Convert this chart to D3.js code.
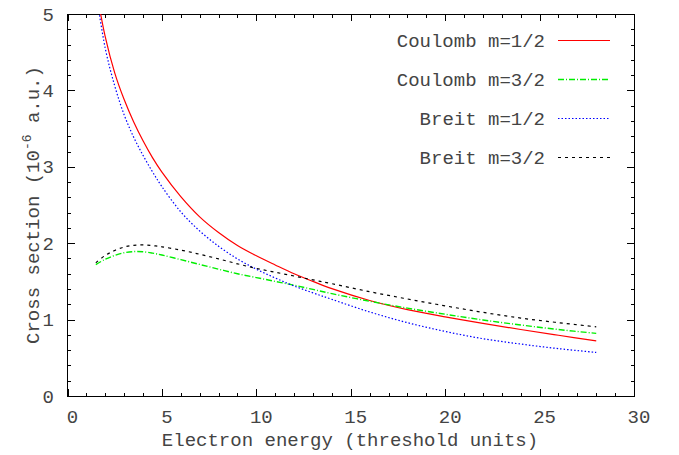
<!DOCTYPE html>
<html>
<head>
<meta charset="utf-8">
<title>Cross section vs electron energy</title>
<script src="https://d3js.org/d3.v7.min.js"></script>
<style>
  body { margin: 0; background: #fff; }
  svg { display: block; font-family: "Liberation Mono", "DejaVu Sans Mono", monospace; }
  .lbl { font-size: 19px; fill: #444; }
</style>
</head>
<body>
<svg id="chart" width="679" height="455"></svg>
<script>
// energy grid (threshold units) and curves
const energy = [1.5, 2, 2.5, 3, 3.5, 4, 4.5, 5, 6, 7, 8, 9, 10, 11, 12, 13, 14, 16, 18, 20, 22, 24, 26, 28];
const coulombHalf = [5.35, 4.70, 4.23, 3.88, 3.59, 3.34, 3.12, 2.93, 2.61, 2.345, 2.14, 1.97, 1.835, 1.715, 1.60, 1.50, 1.405, 1.25, 1.13, 1.035, 0.95, 0.87, 0.795, 0.722];
const coulombThreeHalf = [1.72, 1.79, 1.84, 1.875, 1.89, 1.888, 1.87, 1.845, 1.785, 1.722, 1.66, 1.60, 1.55, 1.50, 1.45, 1.395, 1.34, 1.24, 1.15, 1.07, 0.995, 0.93, 0.87, 0.82];
const breitHalf = [5.3, 4.55, 4.06, 3.68, 3.39, 3.15, 2.935, 2.74, 2.41, 2.16, 1.96, 1.795, 1.66, 1.545, 1.44, 1.35, 1.265, 1.10, 0.96, 0.845, 0.75, 0.68, 0.62, 0.57];
const breitThreeHalf = [1.745, 1.84, 1.905, 1.95, 1.972, 1.977, 1.968, 1.953, 1.91, 1.855, 1.795, 1.73, 1.67, 1.62, 1.57, 1.52, 1.47, 1.365, 1.27, 1.18, 1.095, 1.02, 0.96, 0.905];

const seriesNames = ["Coulomb m=1/2", "Coulomb m=3/2", "Breit m=1/2", "Breit m=3/2"];
const xTicks = [0, 5, 10, 15, 20, 25, 30];
const yTicks = [0, 1, 2, 3, 4, 5];

const series = [
  { name: seriesNames[0], values: coulombHalf, color: "#ff0000", dash: null, w: 1.2 },
  { name: seriesNames[1], values: coulombThreeHalf, color: "#00ee00", dash: "6,2,1,2", w: 1.4 },
  { name: seriesNames[2], values: breitHalf, color: "#0000ff", dash: "1.5,2", w: 1.2 },
  { name: seriesNames[3], values: breitThreeHalf, color: "#000000", dash: "3,4", w: 1.2 }
];

const pLeft = 67.5, pRight = 634, pTop = 14, pBottom = 396;
const svg = d3.select("#chart");

const x = d3.scaleLinear().domain([0, 30]).range([pLeft, pRight]);
const y = d3.scaleLinear().domain([0, 5]).range([pBottom, pTop]);

svg.append("defs").append("clipPath").attr("id", "clip")
  .append("rect").attr("x", pLeft).attr("y", pTop).attr("width", pRight - pLeft).attr("height", pBottom - pTop);

// ticks on all four sides, pointing inward
const axes = svg.append("g").attr("shape-rendering", "crispEdges");
function addAxis(axisFn, scale, pos, major, minor) {
  const g1 = axes.append("g").attr("transform", pos)
    .call(axisFn(scale).tickValues(minor).tickSize(-3.5).tickFormat(""));
  const g2 = axes.append("g").attr("transform", pos)
    .call(axisFn(scale).tickValues(major).tickSize(-7).tickFormat(""));
  [g1, g2].forEach(g => { g.select(".domain").remove(); g.selectAll("line").attr("stroke", "#000"); });
}
const xMinor = d3.range(0, 31, 1), yMinor = d3.range(0, 5.01, 0.2);
addAxis(d3.axisBottom, x, `translate(0,${pBottom})`, xTicks, xMinor);
addAxis(d3.axisTop, x, `translate(0,${pTop})`, xTicks, xMinor);
addAxis(d3.axisLeft, y, `translate(${pLeft},0)`, yTicks, yMinor);
addAxis(d3.axisRight, y, `translate(${pRight},0)`, yTicks, yMinor);

axes.append("rect").attr("x", pLeft).attr("y", pTop)
  .attr("width", pRight - pLeft).attr("height", pBottom - pTop)
  .attr("fill", "none").attr("stroke", "#000");

// tick labels
svg.append("g").selectAll("text").data(xTicks).join("text")
  .attr("class", "lbl").attr("text-anchor", "middle")
  .attr("x", d => x(d) + 5).attr("y", 423).text(d => d);
svg.append("g").selectAll("text").data(yTicks).join("text")
  .attr("class", "lbl").attr("text-anchor", "end")
  .attr("x", 54).attr("y", d => y(d) + 6.5).text(d => d);

// axis titles
svg.append("text").attr("class", "lbl").attr("text-anchor", "middle")
  .attr("x", 350).attr("y", 446).text("Electron energy (threshold units)");
const yt = svg.append("text").attr("class", "lbl").attr("text-anchor", "middle")
  .attr("transform", `translate(39,${(pTop + pBottom) / 2}) rotate(-90)`);
yt.append("tspan").text("Cross section (10");
yt.append("tspan").attr("dy", -8).style("font-size", "13px").text("-6");
yt.append("tspan").attr("dy", 8).text(" a.u.)");

// curves
const line = d3.line().x((d, i) => x(energy[i])).y(d => y(d)).curve(d3.curveCatmullRom.alpha(0.5));
svg.append("g").attr("clip-path", "url(#clip)")
  .selectAll("path").data(series).join("path")
  .attr("fill", "none")
  .attr("stroke", d => d.color)
  .attr("stroke-width", d => d.w)
  .attr("stroke-dasharray", d => d.dash)
  .attr("d", d => line(d.values));

// legend
const leg = svg.append("g").selectAll("g").data(series).join("g")
  .attr("transform", (d, i) => `translate(0,${40 + i * 39})`);
leg.append("text").attr("class", "lbl").attr("text-anchor", "end")
  .attr("x", 545).attr("y", 6.5).text(d => d.name);
leg.append("line").attr("x1", 558).attr("x2", 610).attr("y1", 0.5).attr("y2", 0.5)
  .attr("stroke", d => d.color).attr("stroke-width", d => d.w)
  .attr("stroke-dasharray", d => d.dash);
</script>
</body>
</html>
